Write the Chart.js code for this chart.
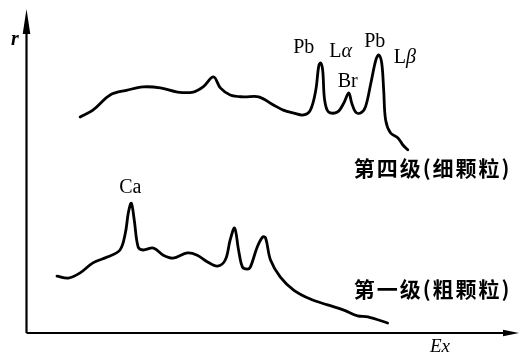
<!DOCTYPE html>
<html>
<head>
<meta charset="utf-8">
<script src="https://cdn.jsdelivr.net/npm/chart.js@4/dist/chart.umd.min.js"></script>
<style>
  html, body { margin: 0; padding: 0; background: #fff; }
  #c { display: block; }
</style>
</head>
<body>
<canvas id="c" width="521" height="356"></canvas>
<script>
// X-ray fluorescence spectra of two particle-size stages (relative units)
const fineEx = [11.0, 13.6, 17.1, 20.6, 23.8, 27.3, 30.8, 34.0, 36.0, 38.1, 39.5, 41.5, 44.2, 47.3,
  50.3, 52.3, 54.4, 56.4, 57.8, 58.9, 59.5, 59.9, 60.3, 60.7, 61.5, 63.3, 64.6, 65.6, 66.2, 67.0,
  68.0, 69.0, 70.1, 71.1, 71.7, 72.3, 72.7, 73.1, 74.1, 75.6, 76.6, 77.6];
const fineR = [66.9, 69.0, 73.7, 75.2, 76.2, 75.9, 74.6, 74.6, 76.2, 79.3, 75.9, 73.7, 73.1, 73.1,
  70.6, 69.0, 68.1, 67.5, 69.0, 75.2, 82.7, 83.6, 81.4, 72.1, 68.4, 68.4, 71.2, 74.3, 71.2, 68.4,
  68.1, 70.0, 77.4, 84.5, 86.1, 83.6, 75.2, 65.9, 61.9, 60.4, 58.2, 56.7];

const coarseEx = [6.3, 8.6, 11.0, 13.6, 16.5, 19.1, 20.2, 20.8, 21.4, 22.0, 22.8, 23.8, 25.9, 27.9,
  29.9, 32.8, 34.8, 36.9, 38.9, 40.5, 41.5, 42.4, 43.2, 44.0, 45.0, 45.6, 47.0, 48.1, 48.7, 49.7,
  51.7, 54.4, 57.8, 61.3, 64.6, 67.4, 69.5, 73.5];
const coarseR = [17.6, 17.0, 18.6, 21.7, 23.5, 25.7, 31.0, 37.2, 40.2, 35.0, 26.6, 25.7, 26.3, 24.1,
  23.2, 24.8, 24.1, 22.0, 20.7, 22.6, 28.8, 32.5, 25.7, 20.4, 19.8, 20.4, 26.6, 29.7, 29.4, 22.6,
  17.3, 13.3, 10.5, 8.7, 7.1, 5.3, 5.0, 3.1];

const seriesNames = ['第四级(细颗粒)', '第一级(粗颗粒)'];
const axisTitles = ['r', 'Ex'];
const peakTags = ['Pb', 'Lα', 'Br', 'Pb', 'Lβ', 'Ca'];

// element lines tied to peaks: [tag, dataset, peak x, text offset dx, baseline offset dy]
const peakMarks = [
  [0, 0, 59.9, -17, -10],
  [1, 0, 59.9, 20, -6],
  [2, 0, 65.6, -1, -6],
  [3, 0, 71.7, -4, -8],
  [4, 0, 71.7, 26, 8],
  [5, 1, 21.4, -1, -10]
];

const SERIF = '"Liberation Serif", "DejaVu Serif", serif';
const CJK = '"Noto Sans CJK SC", "Noto Sans", sans-serif';

const arrowAxes = {
  id: 'arrowAxes',
  afterDraw(chart) {
    const { ctx, chartArea: a } = chart;
    const x0 = a.left + 0.5, y0 = a.bottom;
    ctx.save();
    ctx.strokeStyle = '#000';
    ctx.fillStyle = '#000';
    ctx.lineWidth = 2.2;
    ctx.beginPath();
    ctx.moveTo(x0, y0);
    ctx.lineTo(x0, a.top + 18);
    ctx.moveTo(x0, y0);
    ctx.lineTo(a.right - 10, y0);
    ctx.stroke();
    // arrow heads
    ctx.beginPath();
    ctx.moveTo(x0, a.top - 1);
    ctx.lineTo(x0 - 3.8, a.top + 24);
    ctx.lineTo(x0 + 3.8, a.top + 24);
    ctx.closePath();
    ctx.fill();
    ctx.beginPath();
    ctx.moveTo(a.right + 1, y0);
    ctx.lineTo(a.right - 15, y0 - 3.2);
    ctx.lineTo(a.right - 15, y0 + 3.2);
    ctx.closePath();
    ctx.fill();
    // axis titles
    ctx.font = 'italic bold 20px ' + SERIF;
    ctx.textAlign = 'center';
    ctx.textBaseline = 'alphabetic';
    ctx.fillText(axisTitles[0], a.left - 11, a.top + 35);
    ctx.font = 'italic 19px ' + SERIF;
    ctx.fillText(axisTitles[1], a.right - 78, y0 + 19);
    ctx.restore();
  }
};

function drawTag(ctx, text, cx, base) {
  // Latin letters upright, Greek letters italic
  const parts = [];
  for (const ch of text) {
    const greek = /[\u0370-\u03ff]/.test(ch);
    parts.push({ ch, font: (greek ? 'italic ' : '') + '20px ' + SERIF });
  }
  let w = 0;
  parts.forEach(p => { ctx.font = p.font; p.w = ctx.measureText(p.ch).width; w += p.w; });
  let x = cx - w / 2;
  parts.forEach(p => { ctx.font = p.font; ctx.fillText(p.ch, x, base); x += p.w; });
}

const peakLabels = {
  id: 'peakLabels',
  afterDraw(chart) {
    const { ctx } = chart;
    const xs = chart.scales.x, ys = chart.scales.y;
    ctx.save();
    ctx.fillStyle = '#000';
    ctx.textAlign = 'left';
    ctx.textBaseline = 'alphabetic';
    peakMarks.forEach(([tag, ds, px, dx, dy]) => {
      const pt = chart.data.datasets[ds].data.find(p => p.x === px);
      drawTag(ctx, peakTags[tag], xs.getPixelForValue(pt.x) + dx, ys.getPixelForValue(pt.y) + dy);
    });
    // stage names beside each curve
    ctx.font = 'bold 21px ' + CJK;
    ctx.textBaseline = 'middle';
    if ('letterSpacing' in ctx) ctx.letterSpacing = '2px';
    ctx.fillText(seriesNames[0], xs.getPixelForValue(66.6), ys.getPixelForValue(51.1), 166);
    ctx.fillText(seriesNames[1], xs.getPixelForValue(66.6), ys.getPixelForValue(13.6), 166);
    ctx.restore();
  }
};

const lineStyle = {
  borderColor: '#000',
  borderWidth: 2.8,
  pointRadius: 0,
  fill: false,
  tension: 0.35,
  borderCapStyle: 'round',
  borderJoinStyle: 'round'
};

new Chart(document.getElementById('c'), {
  type: 'line',
  data: {
    datasets: [
      Object.assign({ label: seriesNames[0], data: fineEx.map((x, i) => ({ x, y: fineR[i] })) }, lineStyle),
      Object.assign({ label: seriesNames[1], data: coarseEx.map((x, i) => ({ x, y: coarseR[i] })) }, lineStyle)
    ]
  },
  options: {
    responsive: false,
    animation: false,
    layout: { padding: { left: 26, right: 3, top: 10, bottom: 23 } },
    scales: {
      x: { type: 'linear', min: 0, max: 100, display: false },
      y: { min: 0, max: 100, display: false }
    },
    plugins: { legend: { display: false }, tooltip: { enabled: false } }
  },
  plugins: [arrowAxes, peakLabels]
});
</script>
</body>
</html>
